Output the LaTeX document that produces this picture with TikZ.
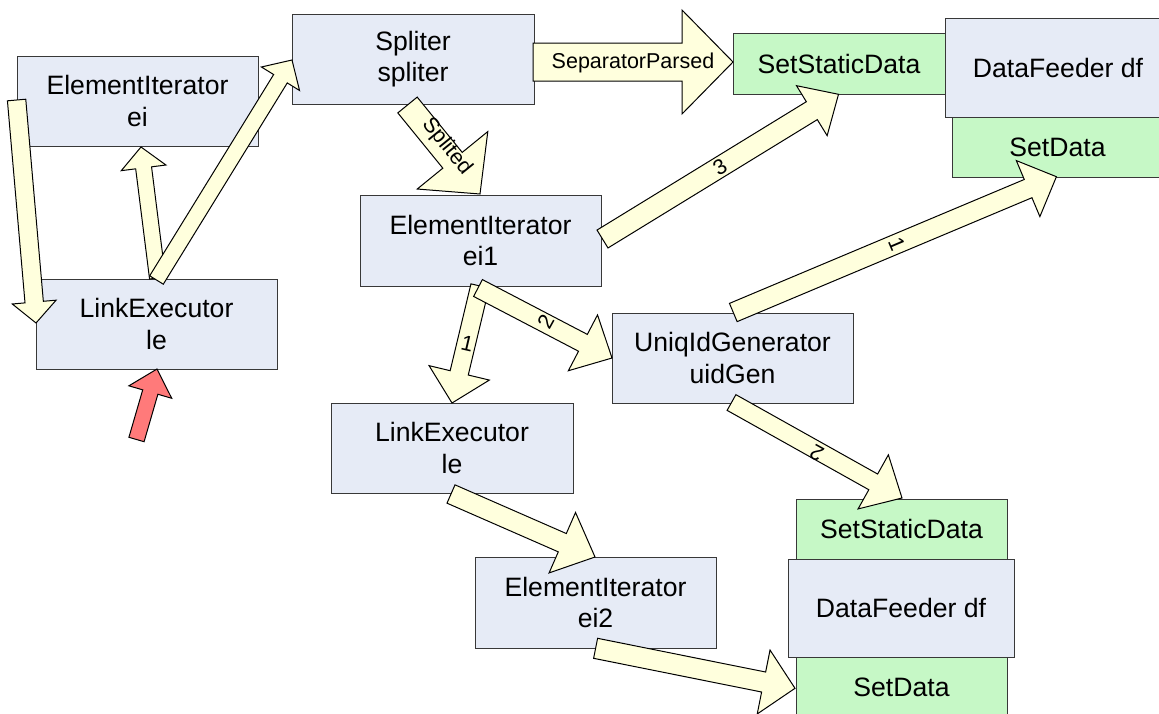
\documentclass[tikz,border=0pt]{standalone}
\usepackage{fontspec}
\setmainfont{Liberation Sans}
\usetikzlibrary{calc}

\definecolor{boxfill}{HTML}{E6EBF6}
\definecolor{methodfill}{HTML}{C6F8C6}
\definecolor{flowfill}{HTML}{FFFFDD}
\definecolor{startfill}{HTML}{FF7A7A}
\definecolor{edgegray}{HTML}{383838}

% Block arrow: [style]{tail}{tip}{shaft half width}{head half width}{head length}
\newcommand{\blockarrow}[6][flow]{%
  \coordinate (ba-b) at ($(#3)!#6!(#2)$);
  \draw[#1] ($(#2)!#4!90:(#3)$) -- ($(ba-b)!#4!90:(#3)$) -- ($(ba-b)!#5!90:(#3)$)
    -- (#3) -- ($(ba-b)!#5!-90:(#3)$) -- ($(ba-b)!#4!-90:(#3)$)
    -- ($(#2)!#4!-90:(#3)$) -- cycle;
}

\tikzset{
  objbox/.style={draw=edgegray, line width=1pt, fill=boxfill, inner sep=0pt,
    align=center, font=\fontsize{26.6}{31.5}\selectfont},
  methodbox/.style={objbox, fill=methodfill},
  flow/.style={draw=black, line width=1pt, fill=flowfill, line join=miter},
  startflow/.style={flow, fill=startfill},
  lbl/.style={inner sep=0pt, font=\fontsize{21.5}{25}\selectfont},
}

\begin{document}
\begin{tikzpicture}[x=1pt, y=-1pt]
\useasboundingbox (0,0) rectangle (1159,713);
\clip (0,0) rectangle (1159,713);
\fill[white] (0,0) rectangle (1159,713);

% objects
\node[objbox, minimum width=241pt, minimum height=90pt] (ei)  at (137.5,101)   {ElementIterator\\ei};
\node[objbox, minimum width=241pt, minimum height=90pt] (le)  at (156.5,324)   {LinkExecutor\\le};
\node[objbox, minimum width=242pt, minimum height=90pt] (sp)  at (413,59)      {Spliter\\spliter};
\node[objbox, minimum width=241pt, minimum height=91pt] (ei1) at (480.5,240.5) {ElementIterator\\ei1};
\node[objbox, minimum width=241pt, minimum height=90pt] (uid) at (732.5,358)   {UniqIdGenerator\\uidGen};
\node[objbox, minimum width=242pt, minimum height=90pt] (le2) at (452,448)     {LinkExecutor\\le};
\node[objbox, minimum width=241pt, minimum height=91pt] (ei2) at (595.5,602.5) {ElementIterator\\ei2};

% upper data feeder with its methods
\node[methodbox, minimum width=212pt, minimum height=61pt] (sst1) at (839,63.5)  {SetStaticData};
\node[methodbox, minimum width=211pt, minimum height=60pt] (sd1)  at (1057.5,147) {SetData};
\node[objbox,    minimum width=226pt, minimum height=99pt] (df1)  at (1058,67.5)  {DataFeeder df};

% lower data feeder with its methods
\node[methodbox, minimum width=211pt, minimum height=60pt] (sst2) at (901.5,529) {SetStaticData};
\node[methodbox, minimum width=211pt, minimum height=60pt] (sd2)  at (901.5,687) {SetData};
\node[objbox,    minimum width=226pt, minimum height=98pt] (df2)  at (901,608)   {DataFeeder df};

% arrow ends
\coordinate (t1)  at (16.6,100);   \coordinate (h1)  at (36,323);
\coordinate (t2)  at (157.5,278);  \coordinate (h2)  at (141,147);
\coordinate (t3)  at (156.5,280);  \coordinate (h3)  at (292,60);
\coordinate (t4)  at (407.5,105);  \coordinate (h4)  at (480,194);
\coordinate (t5)  at (533,62);     \coordinate (h5)  at (733,62);
\coordinate (t6)  at (602.5,239);  \coordinate (h6)  at (838.5,94.3);
\coordinate (t7)  at (733.3,312.5); \coordinate (h7) at (1056.4,176.7);
\coordinate (t8)  at (480,286);    \coordinate (h8)  at (452,403);
\coordinate (t9)  at (478,288);    \coordinate (h9)  at (612,358);
\coordinate (t10) at (731.5,402.5); \coordinate (h10) at (902,498);
\coordinate (t11) at (451,494);    \coordinate (h11) at (595,557);
\coordinate (t12) at (595.6,648.3); \coordinate (h12) at (795,688.3);
\coordinate (t13) at (136.5,439.5); \coordinate (h13) at (157,369);

% block arrows
\blockarrow{t1}{h1}{9.2pt}{22pt}{21pt}
\blockarrow{t2}{h2}{8pt}{22.5pt}{21pt}
\blockarrow{t3}{h3}{8pt}{22.4pt}{22pt}
\blockarrow{t4}{h4}{12.5pt}{45.5pt}{43.5pt}
\blockarrow{t5}{h5}{19pt}{52pt}{51pt}
\blockarrow{t6}{h6}{10.5pt}{29.3pt}{31.3pt}
\blockarrow{t7}{h7}{9.9pt}{30.4pt}{30.7pt}
\blockarrow{t8}{h8}{9.3pt}{31pt}{31pt}
\blockarrow{t9}{h9}{9.5pt}{31.5pt}{32.8pt}
\blockarrow{t10}{h10}{9pt}{31pt}{33pt}
\blockarrow{t11}{h11}{10pt}{33pt}{35.7pt}
\blockarrow{t12}{h12}{10.2pt}{32.6pt}{32pt}
\blockarrow[startflow]{t13}{h13}{7.9pt}{22.3pt}{24pt}

% arrow labels
\node[lbl] (lsep) at (633,63) {SeparatorParsed};
\node[lbl, rotate=-51] (lspl) at (446.7,146.7) {Splited};
\node[lbl, rotate=31]  (l3)   at (720,167) {3};
\node[lbl, rotate=-67] (l1a)  at (896.7,244) {1};
\node[lbl, rotate=-13] (l1b)  at (467.3,343.3) {1};
\node[lbl, rotate=61]  (l2a)  at (545.7,321.7) {2};
\node[lbl, rotate=151] (l2b)  at (816.7,452.7) {2};
\end{tikzpicture}
\end{document}
